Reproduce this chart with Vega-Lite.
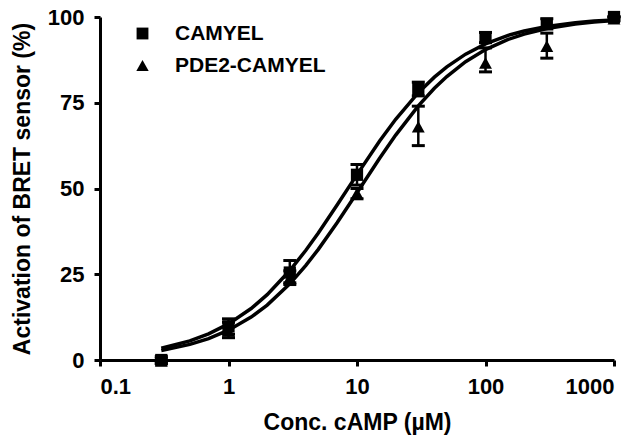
{
  "$schema": "https://vega.github.io/schema/vega-lite/v6.json",
  "width": 514,
  "height": 343,
  "autosize": {"type": "none"},
  "padding": {"left": 100, "top": 17, "right": 30, "bottom": 78},
  "background": "white",
  "datasets": {
    "points": [
      {"conc": 0.3, "series": "CAMYEL", "value": 0, "lo": -1, "hi": 1},
      {"conc": 1, "series": "CAMYEL", "value": 9.8, "lo": 7.5, "hi": 12},
      {"conc": 3, "series": "CAMYEL", "value": 25.5, "lo": 22.5, "hi": 29},
      {"conc": 10, "series": "CAMYEL", "value": 54, "lo": 51, "hi": 57},
      {"conc": 30, "series": "CAMYEL", "value": 79, "lo": 77, "hi": 81},
      {"conc": 100, "series": "CAMYEL", "value": 94, "lo": 92.5, "hi": 95.5},
      {"conc": 300, "series": "CAMYEL", "value": 98, "lo": 96.5, "hi": 99.5},
      {"conc": 1000, "series": "CAMYEL", "value": 100, "lo": 100, "hi": 100},
      {"conc": 0.3, "series": "PDE2-CAMYEL", "value": -0.3, "lo": -1, "hi": 0.5},
      {"conc": 1, "series": "PDE2-CAMYEL", "value": 8.5, "lo": 6.5, "hi": 11},
      {"conc": 3, "series": "PDE2-CAMYEL", "value": 24, "lo": 22, "hi": 26},
      {"conc": 10, "series": "PDE2-CAMYEL", "value": 48.6, "lo": 47, "hi": 50},
      {"conc": 30, "series": "PDE2-CAMYEL", "value": 68, "lo": 62.5, "hi": 74},
      {"conc": 100, "series": "PDE2-CAMYEL", "value": 86.6, "lo": 84, "hi": 91},
      {"conc": 300, "series": "PDE2-CAMYEL", "value": 91.5, "lo": 88, "hi": 95.3},
      {"conc": 1000, "series": "PDE2-CAMYEL", "value": 99.5, "lo": 99, "hi": 100}
    ],
    "curves": [
      {"conc": 0.3, "series": "CAMYEL", "fit": 3.41},
      {"conc": 0.5, "series": "CAMYEL", "fit": 5.56},
      {"conc": 0.7, "series": "CAMYEL", "fit": 7.61},
      {"conc": 1, "series": "CAMYEL", "fit": 10.53},
      {"conc": 1.5, "series": "CAMYEL", "fit": 15.0},
      {"conc": 2, "series": "CAMYEL", "fit": 19.05},
      {"conc": 3, "series": "CAMYEL", "fit": 26.09},
      {"conc": 4, "series": "CAMYEL", "fit": 32.0},
      {"conc": 5, "series": "CAMYEL", "fit": 37.04},
      {"conc": 7, "series": "CAMYEL", "fit": 45.16},
      {"conc": 10, "series": "CAMYEL", "fit": 54.05},
      {"conc": 15, "series": "CAMYEL", "fit": 63.83},
      {"conc": 20, "series": "CAMYEL", "fit": 70.18},
      {"conc": 30, "series": "CAMYEL", "fit": 77.92},
      {"conc": 40, "series": "CAMYEL", "fit": 82.47},
      {"conc": 50, "series": "CAMYEL", "fit": 85.47},
      {"conc": 70, "series": "CAMYEL", "fit": 89.17},
      {"conc": 100, "series": "CAMYEL", "fit": 92.17},
      {"conc": 150, "series": "CAMYEL", "fit": 94.64},
      {"conc": 200, "series": "CAMYEL", "fit": 95.92},
      {"conc": 300, "series": "CAMYEL", "fit": 97.24},
      {"conc": 500, "series": "CAMYEL", "fit": 98.33},
      {"conc": 700, "series": "CAMYEL", "fit": 98.8},
      {"conc": 1000, "series": "CAMYEL", "fit": 99.16},
      {"conc": 0.3, "series": "PDE2-CAMYEL", "fit": 2.78},
      {"conc": 0.5, "series": "PDE2-CAMYEL", "fit": 4.55},
      {"conc": 0.7, "series": "PDE2-CAMYEL", "fit": 6.25},
      {"conc": 1, "series": "PDE2-CAMYEL", "fit": 8.7},
      {"conc": 1.5, "series": "PDE2-CAMYEL", "fit": 12.5},
      {"conc": 2, "series": "PDE2-CAMYEL", "fit": 16.0},
      {"conc": 3, "series": "PDE2-CAMYEL", "fit": 22.22},
      {"conc": 4, "series": "PDE2-CAMYEL", "fit": 27.59},
      {"conc": 5, "series": "PDE2-CAMYEL", "fit": 32.26},
      {"conc": 7, "series": "PDE2-CAMYEL", "fit": 40.0},
      {"conc": 10, "series": "PDE2-CAMYEL", "fit": 48.78},
      {"conc": 15, "series": "PDE2-CAMYEL", "fit": 58.82},
      {"conc": 20, "series": "PDE2-CAMYEL", "fit": 65.57},
      {"conc": 30, "series": "PDE2-CAMYEL", "fit": 74.07},
      {"conc": 40, "series": "PDE2-CAMYEL", "fit": 79.21},
      {"conc": 50, "series": "PDE2-CAMYEL", "fit": 82.64},
      {"conc": 70, "series": "PDE2-CAMYEL", "fit": 86.96},
      {"conc": 100, "series": "PDE2-CAMYEL", "fit": 90.5},
      {"conc": 150, "series": "PDE2-CAMYEL", "fit": 93.46},
      {"conc": 200, "series": "PDE2-CAMYEL", "fit": 95.01},
      {"conc": 300, "series": "PDE2-CAMYEL", "fit": 96.62},
      {"conc": 500, "series": "PDE2-CAMYEL", "fit": 97.94},
      {"conc": 700, "series": "PDE2-CAMYEL", "fit": 98.52},
      {"conc": 1000, "series": "PDE2-CAMYEL", "fit": 98.96}
    ]
  },
  "encoding": {
    "x": {
      "field": "conc",
      "type": "quantitative",
      "scale": {"type": "log", "domain": [0.1, 1000], "nice": false},
      "axis": {"title": "Conc. cAMP (µM)", "values": [0.1, 1, 10, 100, 1000], "format": "~g", "labelPadding": 10, "titlePadding": 14}
    }
  },
  "layer": [
    {
      "data": {"name": "curves"},
      "mark": {"type": "line", "color": "black", "strokeWidth": 3.5, "clip": false},
      "encoding": {
        "y": {"field": "fit", "type": "quantitative", "scale": {"domain": [0, 100], "nice": false}, "axis": {"title": "Activation of BRET sensor (%)", "values": [0, 25, 50, 75, 100], "labelPadding": 10, "titlePadding": 13}},
        "detail": {"field": "series"}
      }
    },
    {
      "data": {"name": "points"},
      "mark": {"type": "rule", "color": "black", "strokeWidth": 2.5, "opacity": 1, "clip": false},
      "encoding": {
        "y": {"field": "lo", "type": "quantitative"},
        "y2": {"field": "hi"}
      }
    },
    {
      "data": {"name": "points"},
      "mark": {"type": "tick", "orient": "horizontal", "color": "black", "opacity": 1, "size": 13, "thickness": 3, "clip": false},
      "encoding": {"y": {"field": "hi", "type": "quantitative"}}
    },
    {
      "data": {"name": "points"},
      "mark": {"type": "tick", "orient": "horizontal", "color": "black", "opacity": 1, "size": 13, "thickness": 3, "clip": false},
      "encoding": {"y": {"field": "lo", "type": "quantitative"}}
    },
    {
      "data": {"name": "points"},
      "mark": {"type": "point", "filled": true, "color": "black", "opacity": 1, "size": 150, "clip": false},
      "encoding": {
        "y": {"field": "value", "type": "quantitative"},
        "shape": {
          "field": "series",
          "type": "nominal",
          "scale": {"domain": ["CAMYEL", "PDE2-CAMYEL"], "range": ["square", "M0,-0.95L1.05,0.95L-1.05,0.95Z"]},
          "legend": {
            "title": null,
            "orient": "none",
            "legendX": 32,
            "legendY": 6,
            "labelFontSize": 21,
            "labelFont": "Liberation Sans",
            "labelFontWeight": "bold",
            "labelColor": "black",
            "labelOffset": 22,
            "rowPadding": 10,
            "symbolSize": 140,
            "symbolFillColor": "black",
            "symbolStrokeColor": "black",
            "symbolOpacity": 1
          }
        }
      }
    }
  ],
  "config": {
    "view": {"stroke": null},
    "font": "Liberation Sans",
    "axis": {
      "grid": false,
      "domainColor": "black",
      "domainWidth": 3,
      "tickColor": "black",
      "tickWidth": 3,
      "tickSize": 6,
      "labelFont": "Liberation Sans",
      "labelFontSize": 22,
      "labelFontWeight": "bold",
      "labelColor": "black",
      "titleFont": "Liberation Sans",
      "titleFontSize": 23,
      "titleFontWeight": "bold",
      "titleColor": "black"
    }
  }
}
